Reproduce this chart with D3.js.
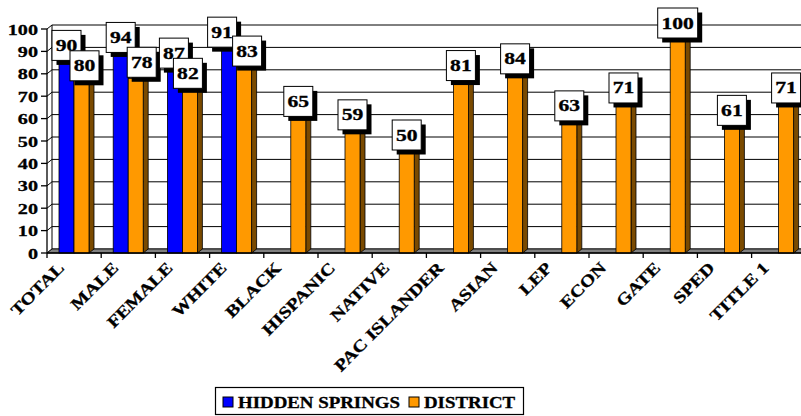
<!DOCTYPE html>
<html>
<head>
<meta charset="utf-8">
<script src="https://cdn.jsdelivr.net/npm/d3@7"></script>
<style>
  html, body { margin: 0; padding: 0; background: #fff; }
  svg { display: block; }
  text { font-family: "Liberation Serif", "Times New Roman", serif; font-weight: bold; fill: #000; }
</style>
</head>
<body>
<svg id="chart" width="801" height="416"></svg>
<script>
// ---- data ----
const categories = ["TOTAL", "MALE", "FEMALE", "WHITE", "BLACK", "HISPANIC", "NATIVE",
  "PAC ISLANDER", "ASIAN", "LEP", "ECON", "GATE", "SPED", "TITLE 1"];
const seriesNames = ["HIDDEN SPRINGS", "DISTRICT"];
const hiddenSprings = [90, 94, 87, 91, null, null, null, null, null, null, null, null, null, null];
const district = [80, 78, 82, 83, 65, 59, 50, 81, 84, 63, 71, 100, 61, 71];
const yTicks = [0, 10, 20, 30, 40, 50, 60, 70, 80, 90, 100];

// ---- styles / layout ----
const frontColors = ["#0000ff", "#ff9900"];
const sideColors = ["#000080", "#7a4a00"];
const topColors = ["#3333ff", "#ffb84d"];
// label nudges (dx, dy) for crowded pairs, as placed in the original
const labelNudge = [
  [[0, 0], [3, -2]],
  [[0, 1], [6, -10]],
  [[-1, 1], [-2, 10]],
  [[-7, -11], [3, -10]]
];

const svg = d3.select("#chart");
const left = 47, bandW = 54.2;
const DX = 5, DY = -4; // 3D depth offset

const x = d3.scaleBand().domain(categories).range([left, left + bandW * categories.length]).padding(0);
const sub = d3.scaleBand().domain(seriesNames).range([12, 42]).padding(0);
const y = d3.scaleLinear().domain([0, 100]).range([253, 29]);
const xEnd = left + bandW * categories.length;

const series = [hiddenSprings, district];

// back wall
const gBack = svg.append("g");
gBack.append("rect").attr("x", left + DX).attr("y", y(100) + DY)
  .attr("width", xEnd - left).attr("height", y(0) - y(100)).attr("fill", "#fff");
gBack.selectAll("line.grid").data(yTicks).join("line")
  .attr("x1", left + DX).attr("x2", xEnd + DX)
  .attr("y1", d => y(d) + DY).attr("y2", d => y(d) + DY)
  .attr("stroke", "#000").attr("stroke-width", 1);
gBack.selectAll("line.lw").data(yTicks).join("line")
  .attr("x1", left).attr("x2", left + DX)
  .attr("y1", d => y(d)).attr("y2", d => y(d) + DY)
  .attr("stroke", "#000").attr("stroke-width", 1);
gBack.append("line").attr("x1", left + DX).attr("x2", left + DX)
  .attr("y1", y(100) + DY).attr("y2", y(0) + DY).attr("stroke", "#000");
gBack.append("path")
  .attr("d", `M${left},${y(0)} L${xEnd},${y(0)} L${xEnd + DX},${y(0) + DY} L${left + DX},${y(0) + DY} Z`)
  .attr("fill", "#808080").attr("stroke", "#000").attr("stroke-width", 0.8);

// bars
const gBars = svg.append("g");
categories.forEach((c, i) => {
  series.forEach((vals, s) => {
    const v = vals[i];
    if (v == null) return;
    const x0 = x(c) + sub(seriesNames[s]);
    const x1 = x0 + sub.bandwidth();
    const yt = y(v), yb = y(0);
    gBars.append("path")
      .attr("d", `M${x1},${yt} L${x1 + DX},${yt + DY} L${x1 + DX},${yb + DY} L${x1},${yb} Z`)
      .attr("fill", sideColors[s]).attr("stroke", "#000").attr("stroke-width", 0.8);
    gBars.append("path")
      .attr("d", `M${x0},${yt} L${x1},${yt} L${x1 + DX},${yt + DY} L${x0 + DX},${yt + DY} Z`)
      .attr("fill", topColors[s]).attr("stroke", "#000").attr("stroke-width", 0.8);
    gBars.append("rect").attr("x", x0).attr("y", yt)
      .attr("width", sub.bandwidth()).attr("height", yb - yt)
      .attr("fill", frontColors[s]).attr("stroke", "#000").attr("stroke-width", 0.8);
  });
});

// front axes
const gAxis = svg.append("g");
gAxis.append("line").attr("x1", left).attr("x2", left).attr("y1", y(100)).attr("y2", y(0))
  .attr("stroke", "#000").attr("stroke-width", 1.3);
gAxis.append("line").attr("x1", left).attr("x2", xEnd).attr("y1", y(0)).attr("y2", y(0))
  .attr("stroke", "#000").attr("stroke-width", 1.3);
gAxis.selectAll("line.yt").data(yTicks).join("line")
  .attr("x1", left - 6).attr("x2", left).attr("y1", d => y(d)).attr("y2", d => y(d))
  .attr("stroke", "#000").attr("stroke-width", 1.3);
gAxis.selectAll("line.xt").data(categories.map((c, i) => i).concat([categories.length])).join("line")
  .attr("x1", d => left + d * bandW).attr("x2", d => left + d * bandW)
  .attr("y1", y(0)).attr("y2", y(0) + 5)
  .attr("stroke", "#000").attr("stroke-width", 1.3);

// y tick labels
gAxis.selectAll("text.yl").data(yTicks).join("text")
  .attr("transform", d => `translate(38,${y(d) + 5.5}) scale(1.3,1)`)
  .attr("text-anchor", "end").attr("font-size", 15.5)
  .attr("stroke", "#000").attr("stroke-width", 0.3)
  .text(d => d);

// x labels
gAxis.selectAll("text.xl").data(categories).join("text")
  .attr("transform", d => `translate(${x(d) + bandW / 2 - 9},${y(0) + 16}) rotate(-45) scale(1.2,1)`)
  .attr("text-anchor", "end").attr("font-size", 16.5)
  .attr("stroke", "#000").attr("stroke-width", 0.3)
  .text(d => d);

// value labels
const gLab = svg.append("g");
categories.forEach((c, i) => {
  series.forEach((vals, s) => {
    const v = vals[i];
    if (v == null) return;
    const nudge = (labelNudge[i] && labelNudge[i][s]) || [0, 0];
    const cx = x(c) + sub(seriesNames[s]) + sub.bandwidth() / 2 + nudge[0];
    const cy = y(v) - 6 + nudge[1];
    const txt = String(v);
    const w = txt.length === 3 ? 40 : 29, h = 30;
    gLab.append("rect").attr("x", cx - w / 2 + 4.5).attr("y", cy - h / 2 + 4.5)
      .attr("width", w).attr("height", h).attr("fill", "#000");
    gLab.append("rect").attr("x", cx - w / 2).attr("y", cy - h / 2)
      .attr("width", w).attr("height", h).attr("fill", "#fff").attr("stroke", "#000").attr("stroke-width", 1);
    gLab.append("text").attr("transform", `translate(${cx},${cy + 5.5}) scale(1.35,1)`)
      .attr("text-anchor", "middle").attr("font-size", 16)
      .attr("stroke", "#000").attr("stroke-width", 0.3).text(txt);
  });
});

// legend
const gLeg = svg.append("g");
gLeg.append("rect").attr("x", 215.5).attr("y", 387.5).attr("width", 308).attr("height", 27)
  .attr("fill", "#fff").attr("stroke", "#000").attr("stroke-width", 1.2);
const legX = [223, 409];
seriesNames.forEach((n, s) => {
  gLeg.append("rect").attr("x", legX[s]).attr("y", 397).attr("width", 10).attr("height", 10)
    .attr("fill", frontColors[s]).attr("stroke", "#000").attr("stroke-width", 1);
  gLeg.append("text").attr("transform", `translate(${legX[s] + 15},${407.5}) scale(1.18,1)`)
    .attr("font-size", 16).attr("stroke", "#000").attr("stroke-width", 0.3).text(n);
});
</script>
</body>
</html>
